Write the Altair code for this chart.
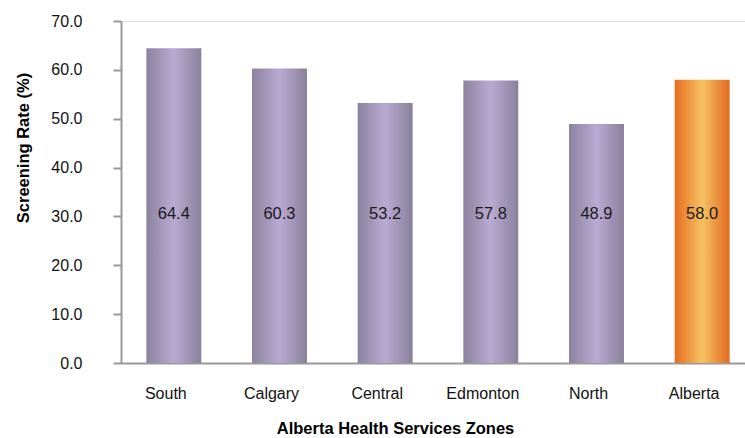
import altair as alt
import pandas as pd

zones = ["South", "Calgary", "Central", "Edmonton", "North", "Alberta"]
rates = [64.4, 60.3, 53.2, 57.8, 48.9, 58.0]
kind = ["zone", "zone", "zone", "zone", "zone", "province"]

df = pd.DataFrame({"zone": zones, "rate": rates, "kind": kind})

FONT = "Liberation Sans"

purple = alt.LinearGradient(
    gradient="linear", x1=0, x2=1, y1=0, y2=0,
    stops=[alt.GradientStop(color="#8c829e", offset=0),
           alt.GradientStop(color="#b9aad3", offset=0.5),
           alt.GradientStop(color="#8a809b", offset=1)])
orange = alt.LinearGradient(
    gradient="linear", x1=0, x2=1, y1=0, y2=0,
    stops=[alt.GradientStop(color="#e56c1f", offset=0),
           alt.GradientStop(color="#f6c262", offset=0.5),
           alt.GradientStop(color="#e36a21", offset=1)])

x_enc = alt.X(
    "zone:N", sort=zones,
    scale=alt.Scale(range=[0, 634], paddingInner=0.48, paddingOuter=0.24),
    axis=alt.Axis(
        title="Alberta Health Services Zones", titleFont=FONT, titleFontSize=16.5,
        titleFontWeight="bold", titleColor="#000000", titleX=274, titleY=70,
        titleBaseline="alphabetic", titleAlign="center",
        labelFont=FONT, labelFontSize=16, labelColor="#111111", labelAngle=0,
        labelPadding=22, labelOffset=-8, ticks=False,
        domainColor="#999999", domainWidth=2))

y_enc = alt.Y(
    "rate:Q",
    scale=alt.Scale(domain=[0, 70], nice=False),
    axis=alt.Axis(
        title="Screening Rate (%)", titleFont=FONT, titleFontSize=16.5,
        titleFontWeight="bold", titleColor="#000000", titleAngle=-90,
        titleX=-93, titleY=126.5, titleAlign="center", titleBaseline="alphabetic",
        values=[0, 10, 20, 30, 40, 50, 60, 70], format=".1f",
        labelFont=FONT, labelFontSize=16, labelColor="#111111", labelPadding=31,
        tickSize=8, tickColor="#999999", tickWidth=2,
        domainColor="#999999", domainWidth=2, grid=False))

base = alt.Chart(df)

bars_zone = base.transform_filter(alt.datum.kind == "zone").mark_bar(
    fill=purple).encode(x=x_enc, y=y_enc)
bars_ab = base.transform_filter(alt.datum.kind == "province").mark_bar(
    fill=orange).encode(x=x_enc, y=y_enc)

labels = base.mark_text(font=FONT, fontSize=16.5, color="#1a1a1a").encode(
    x=alt.X("zone:N", sort=zones),
    y=alt.datum(30.5),
    text=alt.Text("rate:Q", format=".1f"))

chart = alt.layer(bars_zone, bars_ab, labels).properties(
    width=624, height=342,
    autosize=alt.AutoSizeParams(type="none"),
    padding={"left": 121, "top": 21, "right": 0, "bottom": 75},
).configure_view(stroke=None).configure(background="white")

chart.save("out.html", embed_options={"renderer": "svg", "actions": False})
